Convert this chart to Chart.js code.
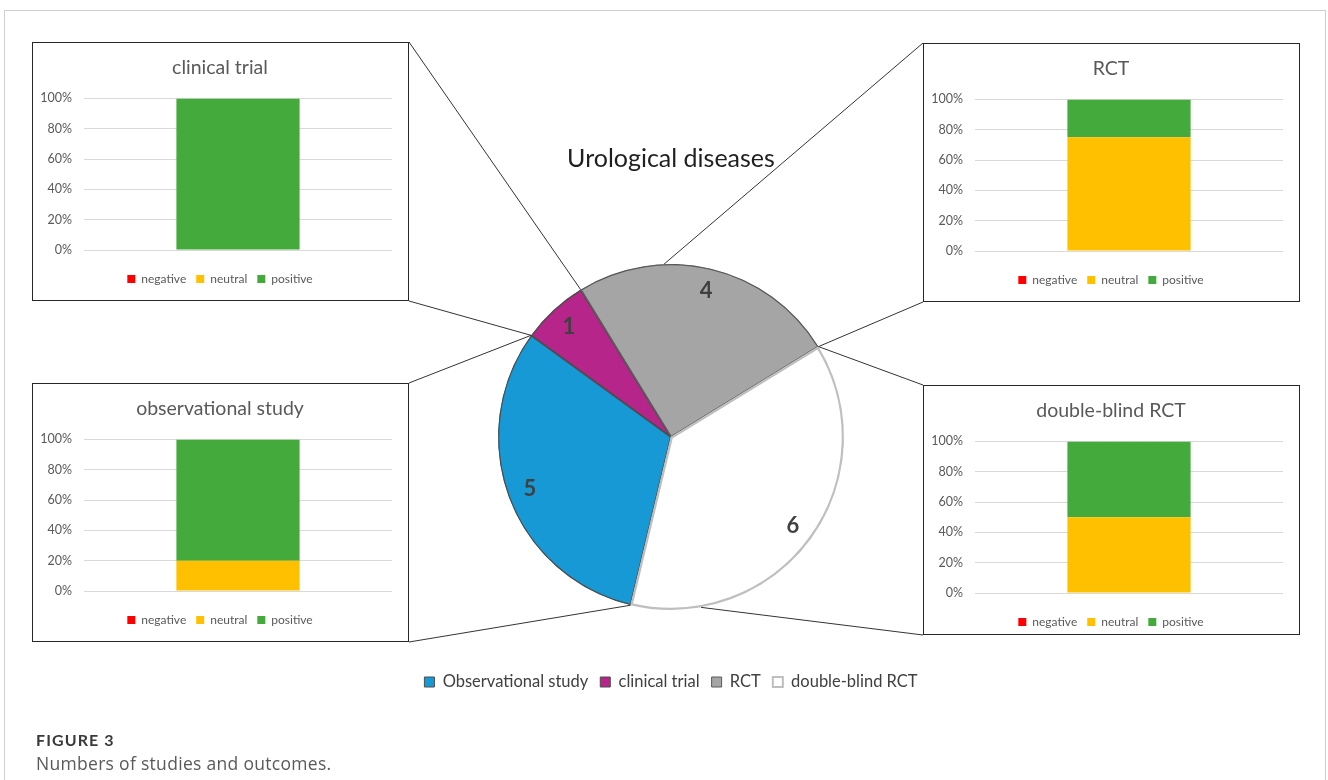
<!DOCTYPE html>
<html>
<head>
<meta charset="utf-8">
<script src="https://cdn.jsdelivr.net/npm/chart.js@4"></script>
<style>
  html, body { margin: 0; padding: 0; background: #fff; }
  body { width: 1328px; height: 780px; position: relative; overflow: hidden; font-family: Lato, sans-serif; }
  #frame { position: absolute; left: 4px; top: 10px; width: 1322px; height: 820px; border: 1px solid #cfcfcf; box-sizing: border-box; }
  #pieChart { position: absolute; left: 0; top: 0; z-index: 1; }
  .box { position: absolute; width: 377px; height: 259px; border: 1px solid #262626; box-sizing: border-box; background: #fff; overflow: hidden; z-index: 2; }
  .box canvas { display: block; }
  #caption { position: absolute; left: 36px; top: 729px; z-index: 3; }
  #caption .fig { font-family: Lato, sans-serif; font-weight: 700; font-size: 16px; letter-spacing: 1.1px; color: #3a3a3a; line-height: 22px; }
  #caption .txt { font-family: "Open Sans", sans-serif; font-size: 17.5px; letter-spacing: 0.3px; color: #5a5a5a; line-height: 24px; margin-top: 0; }
</style>
</head>
<body>
<div id="frame"></div>
<canvas id="pieChart" width="1328" height="780"></canvas>

<div class="box" id="boxClinical" style="left:32px; top:42px;"><canvas id="barClinical" width="375" height="257"></canvas></div>
<div class="box" id="boxRct" style="left:923px; top:43px;"><canvas id="barRct" width="375" height="257"></canvas></div>
<div class="box" id="boxObs" style="left:32px; top:383px;"><canvas id="barObs" width="375" height="257"></canvas></div>
<div class="box" id="boxDouble" style="left:923px; top:385px; height:250px;"><canvas id="barDouble" width="375" height="257"></canvas></div>

<div id="caption">
  <div class="fig">FIGURE 3</div>
  <div class="txt">Numbers of studies and outcomes.</div>
</div>

<script>
// pie: number of studies per design
const studyTypes = ['Observational study', 'clinical trial', 'RCT', 'double-blind RCT'];
const studyCounts = [5, 1, 4, 6];
const sliceColors = ['#1799d5', '#b5258a', '#a5a5a5', '#ffffff'];
const sliceBorders = ['#4d4d4d', '#4d4d4d', '#5a5a5a', '#bfbfbf'];

// bar charts: share of outcomes (%)
const outcomeNames = ['negative', 'neutral', 'positive'];
const outcomeColors = ['#ff0000', '#ffc000', '#43aa3b'];
const clinicalOutcomes = [0, 0, 100];
const rctOutcomes = [0, 75, 25];
const obsOutcomes = [0, 20, 80];
const doubleBlindOutcomes = [0, 50, 50];
const percentTicks = [0, 20, 40, 60, 80, 100];

Chart.defaults.font.family = 'Lato, sans-serif';

function makeBar(id, title, values) {
  return new Chart(document.getElementById(id), {
    type: 'bar',
    data: {
      labels: [''],
      datasets: outcomeNames.map(function(name, k) {
        return {
          label: name,
          data: [values[k]],
          backgroundColor: outcomeColors[k],
          categoryPercentage: 1,
          barPercentage: 0.4
        };
      })
    },
    options: {
      responsive: false,
      animation: false,
      layout: { padding: { left: 15, right: 16, top: 0, bottom: 5 } },
      plugins: {
        title: { display: true, text: title, color: '#595959', font: { size: 19.5, weight: 'normal' }, padding: { top: 13, bottom: 19 } },
        legend: { position: 'bottom', labels: { boxWidth: 8, boxHeight: 8, padding: 10, color: '#595959', font: { size: 12 } } },
        tooltip: { enabled: false }
      },
      scales: {
        x: {
          stacked: true,
          grid: { display: false },
          border: { display: false },
          ticks: { display: false },
          afterFit: function(s) { s.height = 13; }
        },
        y: {
          stacked: true,
          min: percentTicks[0],
          max: percentTicks[percentTicks.length - 1],
          afterBuildTicks: function(s) { s.ticks = percentTicks.map(function(v) { return { value: v }; }); },
          ticks: { padding: 12, color: '#595959', font: { size: 12.5 }, callback: function(v) { return v + '%'; } },
          grid: { color: '#d9d9d9', drawTicks: false },
          border: { display: false },
          afterFit: function(s) {
            s.width = 36;
            // let "100%" run a bit past the narrow axis box instead of being cut
            s._computeLabelArea = function() { return null; };
          }
        }
      }
    }
  });
}

makeBar('barClinical', 'clinical trial', clinicalOutcomes);
makeBar('barRct', 'RCT', rctOutcomes);
makeBar('barObs', 'observational study', obsOutcomes);
makeBar('barDouble', 'double-blind RCT', doubleBlindOutcomes);

// numbers on the slices
const sliceLabels = {
  id: 'sliceLabels',
  afterDatasetsDraw(chart) {
    const ctx = chart.ctx;
    const meta = chart.getDatasetMeta(0);
    ctx.save();
    ctx.font = 'bold 22px Lato, sans-serif';
    ctx.fillStyle = '#404040';
    ctx.textAlign = 'center';
    ctx.textBaseline = 'middle';
    meta.data.forEach(function(arc, i) {
      const p = arc.getProps(['x', 'y', 'startAngle', 'endAngle', 'outerRadius'], true);
      const mid = (p.startAngle + p.endAngle) / 2;
      const r = p.outerRadius * 0.87;
      ctx.fillText(String(chart.data.datasets[0].data[i]), p.x + Math.cos(mid) * r, p.y + Math.sin(mid) * r);
    });
    ctx.restore();
  }
};

// lines from the small charts to the pie
const connectors = {
  id: 'connectors',
  afterDraw(chart) {
    const ctx = chart.ctx;
    const arcs = chart.getDatasetMeta(0).data.map(function(a) {
      return a.getProps(['x', 'y', 'startAngle', 'endAngle', 'outerRadius'], true);
    });
    const cx = arcs[0].x, cy = arcs[0].y, R = arcs[0].outerRadius;
    function onCircle(angle) { return [cx + Math.cos(angle) * R, cy + Math.sin(angle) * R]; }
    function clock(deg) { return (deg - 90) * Math.PI / 180; }
    function box(id) { return document.getElementById(id).getBoundingClientRect(); }
    const bc = box('boxClinical'), bo = box('boxObs'), br = box('boxRct'), bd = box('boxDouble');
    const links = [
      [[bc.right, bc.top], onCircle(arcs[1].endAngle)],
      [[bc.right, bc.bottom], onCircle(arcs[1].startAngle)],
      [[bo.right, bo.top], onCircle(arcs[0].endAngle)],
      [[bo.right, bo.bottom], onCircle(arcs[0].startAngle)],
      [[br.left, br.top], onCircle(clock(357.7))],
      [[br.left, br.bottom], onCircle(arcs[2].endAngle)],
      [[bd.left, bd.top], onCircle(arcs[3].startAngle)],
      [[bd.left, bd.bottom], onCircle(clock(170))]
    ];
    ctx.save();
    ctx.strokeStyle = '#333';
    ctx.lineWidth = 1;
    links.forEach(function(l) {
      ctx.beginPath();
      ctx.moveTo(l[0][0], l[0][1]);
      ctx.lineTo(l[1][0], l[1][1]);
      ctx.stroke();
    });
    ctx.restore();
  }
};

new Chart(document.getElementById('pieChart'), {
  type: 'pie',
  data: {
    labels: studyTypes,
    datasets: [{
      data: studyCounts,
      backgroundColor: sliceColors,
      borderColor: sliceBorders,
      borderWidth: [1, 1, 1, 2],
      borderAlign: 'inner',
      radius: 173
    }]
  },
  options: {
    responsive: false,
    animation: false,
    rotation: 193.5,
    layout: { padding: { left: 14, right: 0, top: 0, bottom: 79.75 } },
    plugins: {
      title: { display: true, text: 'Urological diseases', color: '#1f1f1f', font: { size: 25, weight: 'normal' }, padding: { top: 144, bottom: 38.25 } },
      legend: { position: 'bottom', labels: { boxWidth: 10, boxHeight: 10, padding: 12, color: '#404040', font: { size: 16.5 } } },
      tooltip: { enabled: false }
    }
  },
  plugins: [sliceLabels, connectors]
});
</script>
</body>
</html>
